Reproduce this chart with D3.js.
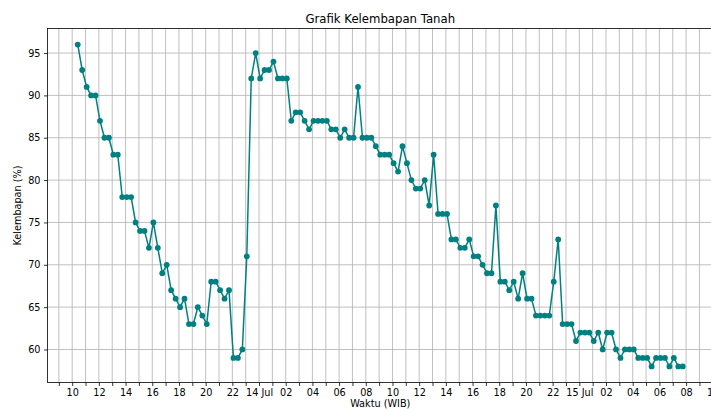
<!DOCTYPE html>
<html>
<head>
<meta charset="utf-8">
<script src="https://cdn.jsdelivr.net/npm/d3@7"></script>
<style>
  body { margin: 0; background: #fff; }
  svg { display: block; font-family: "DejaVu Sans", sans-serif; }
</style>
</head>
<body>
<script>
// Waktu pengukuran (WIB)
const times = [
  '13/07 10:25', '13/07 10:45',
  '13/07 11:05', '13/07 11:25', '13/07 11:45', '13/07 12:05', '13/07 12:25', '13/07 12:45',
  '13/07 13:05', '13/07 13:25', '13/07 13:45', '13/07 14:05', '13/07 14:25', '13/07 14:45',
  '13/07 15:05', '13/07 15:25', '13/07 15:45', '13/07 16:05', '13/07 16:25', '13/07 16:45',
  '13/07 17:05', '13/07 17:25', '13/07 17:45', '13/07 18:05', '13/07 18:25', '13/07 18:45',
  '13/07 19:05', '13/07 19:25', '13/07 19:45', '13/07 20:05', '13/07 20:25', '13/07 20:45',
  '13/07 21:05', '13/07 21:25', '13/07 21:45', '13/07 22:05', '13/07 22:25', '13/07 22:45',
  '13/07 23:05', '13/07 23:25', '13/07 23:45',
  '14/07 00:05', '14/07 00:25', '14/07 00:45', '14/07 01:05', '14/07 01:25', '14/07 01:45',
  '14/07 02:05', '14/07 02:25', '14/07 02:45', '14/07 03:05', '14/07 03:25', '14/07 03:45',
  '14/07 04:05', '14/07 04:25', '14/07 04:45', '14/07 05:05', '14/07 05:25', '14/07 05:45',
  '14/07 06:05', '14/07 06:25', '14/07 06:45', '14/07 07:05', '14/07 07:25', '14/07 07:45',
  '14/07 08:05', '14/07 08:25', '14/07 08:45', '14/07 09:05', '14/07 09:25', '14/07 09:45',
  '14/07 10:05', '14/07 10:25', '14/07 10:45', '14/07 11:05', '14/07 11:25', '14/07 11:45',
  '14/07 12:05', '14/07 12:25', '14/07 12:45', '14/07 13:05', '14/07 13:25', '14/07 13:45',
  '14/07 14:05', '14/07 14:25', '14/07 14:45', '14/07 15:05', '14/07 15:25', '14/07 15:45',
  '14/07 16:05', '14/07 16:25', '14/07 16:45', '14/07 17:05', '14/07 17:25', '14/07 17:45',
  '14/07 18:05', '14/07 18:25', '14/07 18:45', '14/07 19:05', '14/07 19:25', '14/07 19:45',
  '14/07 20:05', '14/07 20:25', '14/07 20:45', '14/07 21:05', '14/07 21:25', '14/07 21:45',
  '14/07 22:05', '14/07 22:25', '14/07 22:45', '14/07 23:05', '14/07 23:25', '14/07 23:45',
  '15/07 00:05', '15/07 00:25', '15/07 00:45', '15/07 01:05', '15/07 01:25', '15/07 01:45',
  '15/07 02:05', '15/07 02:25', '15/07 02:45', '15/07 03:05', '15/07 03:25', '15/07 03:45',
  '15/07 04:05', '15/07 04:25', '15/07 04:45', '15/07 05:05', '15/07 05:25', '15/07 05:45',
  '15/07 06:05', '15/07 06:25', '15/07 06:45', '15/07 07:05', '15/07 07:25', '15/07 07:45'
];

// Kelembapan tanah (%)
const moisture = [
  96, 93, 91, 90, 90, 87, 85, 85, 83, 83,
  78, 78, 78, 75, 74, 74, 72, 75, 72, 69,
  70, 67, 66, 65, 66, 63, 63, 65, 64, 63,
  68, 68, 67, 66, 67, 59, 59, 60, 71, 92,
  95, 92, 93, 93, 94, 92, 92, 92, 87, 88,
  88, 87, 86, 87, 87, 87, 87, 86, 86, 85,
  86, 85, 85, 91, 85, 85, 85, 84, 83, 83,
  83, 82, 81, 84, 82, 80, 79, 79, 80, 77,
  83, 76, 76, 76, 73, 73, 72, 72, 73, 71,
  71, 70, 69, 69, 77, 68, 68, 67, 68, 66,
  69, 66, 66, 64, 64, 64, 64, 68, 73, 63,
  63, 63, 61, 62, 62, 62, 61, 62, 60, 62,
  62, 60, 59, 60, 60, 60, 59, 59, 59, 58,
  59, 59, 59, 58, 59, 58, 58
];

const yTicks = [60, 65, 70, 75, 80, 85, 90, 95];

const parseTime = d3.timeParse('%d/%m %H:%M');
const data = times.map((t, i) => ({ t: parseTime(t), v: moisture[i] }));

// Dimensions
const w = 711;
const h = 409;
const plot = { left: 47.5, right: 713, top: 28.5, bottom: 382.5 };
const color = '#008080';

const svg = d3.select('body')
  .append('svg')
  .attr('width', w)
  .attr('height', h);

// Scales (matplotlib style 5% margins)
const tExt = d3.extent(data, d => d.t);
const tPad = (tExt[1] - tExt[0]) * 0.05;
const xScale = d3.scaleTime()
  .domain([new Date(+tExt[0] - tPad), new Date(+tExt[1] + tPad)])
  .range([plot.left, plot.right]);

const vExt = d3.extent(data, d => d.v);
const vPad = (vExt[1] - vExt[0]) * 0.05;
const yScale = d3.scaleLinear()
  .domain([vExt[0] - vPad, vExt[1] + vPad])
  .range([plot.bottom, plot.top]);

const hourTicks = xScale.ticks(d3.timeHour.every(1));

// Grid
svg.append('g')
  .selectAll('line')
  .data(hourTicks)
  .join('line')
  .attr('x1', d => xScale(d))
  .attr('x2', d => xScale(d))
  .attr('y1', plot.top)
  .attr('y2', plot.bottom)
  .attr('stroke', '#b0b0b0')
  .attr('stroke-width', 0.8);

svg.append('g')
  .selectAll('line')
  .data(yTicks)
  .join('line')
  .attr('x1', plot.left)
  .attr('x2', plot.right)
  .attr('y1', d => yScale(d))
  .attr('y2', d => yScale(d))
  .attr('stroke', '#b0b0b0')
  .attr('stroke-width', 0.8);

// Line + markers
const line = d3.line()
  .x(d => xScale(d.t))
  .y(d => yScale(d.v));

svg.append('path')
  .datum(data)
  .attr('d', line)
  .attr('fill', 'none')
  .attr('stroke', color)
  .attr('stroke-width', 1.5);

svg.append('g')
  .selectAll('circle')
  .data(data)
  .join('circle')
  .attr('cx', d => xScale(d.t))
  .attr('cy', d => yScale(d.v))
  .attr('r', 2.9)
  .attr('fill', color);

// X axis
const fmtDay = d3.timeFormat('%d %b');
const fmtHour = d3.timeFormat('%H');
const xAxis = d3.axisBottom(xScale)
  .tickValues(hourTicks)
  .tickSize(3.5)
  .tickSizeOuter(0)
  .tickPadding(3.5)
  .tickFormat(d => {
    if (d.getHours() % 2) return '';
    return d.getHours() === 0 ? fmtDay(d) : fmtHour(d);
  });

const gx = svg.append('g')
  .attr('transform', `translate(0, ${plot.bottom})`)
  .call(xAxis);
gx.select('.domain').remove();
gx.selectAll('text').attr('font-size', 9.7).attr('fill', '#000').attr('font-family', 'DejaVu Sans');
gx.selectAll('line').attr('stroke', '#000').attr('stroke-width', 0.8);

// Y axis
const yAxis = d3.axisLeft(yScale)
  .tickValues(yTicks)
  .tickSize(3.5)
  .tickSizeOuter(0)
  .tickPadding(3.5);

const gy = svg.append('g')
  .attr('transform', `translate(${plot.left}, 0)`)
  .call(yAxis);
gy.select('.domain').remove();
gy.selectAll('text').attr('font-size', 9.7).attr('fill', '#000').attr('font-family', 'DejaVu Sans');
gy.selectAll('line').attr('stroke', '#000').attr('stroke-width', 0.8);

// Frame
svg.append('rect')
  .attr('x', plot.left)
  .attr('y', plot.top)
  .attr('width', plot.right - plot.left)
  .attr('height', plot.bottom - plot.top)
  .attr('fill', 'none')
  .attr('stroke', '#000')
  .attr('stroke-width', 0.8);

// Title
svg.append('text')
  .attr('x', (plot.left + plot.right) / 2)
  .attr('y', 22.5)
  .attr('text-anchor', 'middle')
  .attr('font-size', 11.7)
  .text('Grafik Kelembapan Tanah');

// Axis labels
svg.append('text')
  .attr('x', (plot.left + plot.right) / 2)
  .attr('y', 406.5)
  .attr('text-anchor', 'middle')
  .attr('font-size', 9.7)
  .text('Waktu (WIB)');

svg.append('text')
  .attr('text-anchor', 'middle')
  .attr('transform', `translate(21, ${(plot.top + plot.bottom) / 2}) rotate(-90)`)
  .attr('font-size', 9.7)
  .text('Kelembapan (%)');
</script>
</body>
</html>
